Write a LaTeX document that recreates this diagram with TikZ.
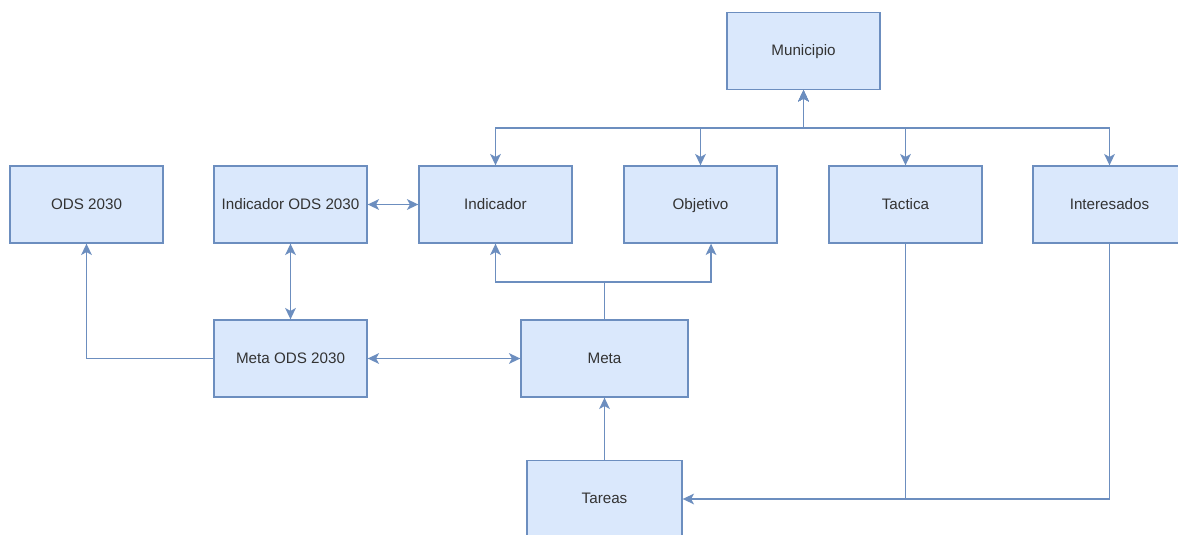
\documentclass[tikz,border=0pt]{standalone}
\usepackage{fontspec}
\setmainfont{Liberation Sans}
\usetikzlibrary{arrows.meta}
\definecolor{boxfill}{HTML}{DAE8FC}
\definecolor{boxline}{HTML}{6C8EBF}
\definecolor{txt}{HTML}{333333}
\begin{document}
\begin{tikzpicture}[x=0.75pt,y=-0.75pt,
  box/.style={draw=boxline,fill=boxfill,line width=1pt,inner sep=0pt,
    minimum width=114.75pt,minimum height=57.75pt,font=\fontsize{11.4}{13}\selectfont,text=txt,
    text height=0.74em,text depth=0em},
  conn/.style={draw=boxline,line width=1pt},
  tip/.style={-{Stealth[length=8.5pt,width=8pt,inset=2.2pt]}},
  bitip/.style={{Stealth[length=8.5pt,width=8pt,inset=2.2pt]}-{Stealth[length=8.5pt,width=8pt,inset=2.2pt]}}]
\useasboundingbox (0,0) rectangle (1178,535);
\clip (0,0) rectangle (1178,535);
\fill[white] (0,0) rectangle (1178,535);
% nodes
\node[box] (mun) at (803.5,51) {Municipio};
\node[box] (ods) at (86.5,204.5) {ODS 2030};
\node[box] (iods) at (290.5,204.5) {Indicador ODS 2030};
\node[box] (ind) at (495.5,204.5) {Indicador};
\node[box] (obj) at (700.5,204.5) {Objetivo};
\node[box] (tac) at (905.5,204.5) {Tactica};
\node[box] (int) at (1109.5,204.5) {Interesados};
\node[box] (mods) at (290.5,358.5) {Meta ODS 2030};
\node[box,minimum width=125.25pt] (meta) at (604.5,358.5) {Meta};
\node[box,minimum width=116.25pt] (tar) at (604.5,499) {Tareas};
% coordinates for bends
\coordinate (bus) at (803.5,128);
\coordinate (mbus) at (604.5,282);
\coordinate (tbus) at (905.5,499);
% connectors
\draw[conn,bitip] (mun.south) -- (bus) -| (ind.north);
\draw[conn,bitip] (mun.south) -- (bus) -| (obj.north);
\draw[conn,bitip] (mun.south) -- (bus) -| (tac.north);
\draw[conn,bitip] (mun.south) -- (bus) -| (int.north);
\draw[conn,bitip] (iods.east) -- (ind.west);
\draw[conn,bitip] (iods.south) -- (mods.north);
\draw[conn,tip] (mods.west) -| (ods.south);
\draw[conn,bitip] (mods.east) -- (meta.west);
\draw[conn,tip] (meta.north) -- (mbus) -| (ind.south);
\draw[conn,tip] (mbus) -| ([xshift=7.9pt]obj.south);
\draw[conn,tip] (tar.north) -- (meta.south);
\draw[conn,tip] (tac.south) -- (tbus) -- (tar.east);
\draw[conn] (int.south) |- (tbus);
\end{tikzpicture}
\end{document}
